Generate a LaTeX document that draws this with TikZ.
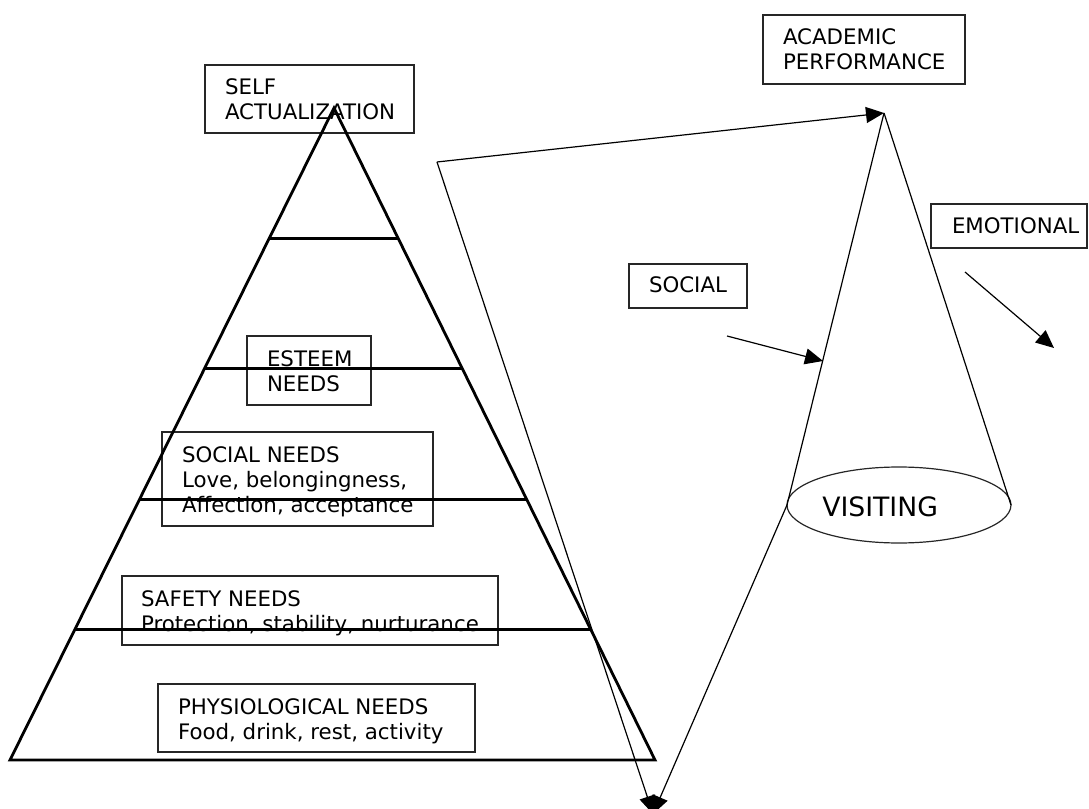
\documentclass[tikz,border=0pt]{standalone}
\usepackage{fontspec}
\setmainfont{DejaVu Sans}
\usetikzlibrary{arrows.meta,calc,shapes.geometric}
\newcommand{\twolines}[2]{\begin{tabular}[t]{@{}l@{}}#1\\#2\end{tabular}}
\begin{document}
\begin{tikzpicture}[x=0.75pt,y=-0.75pt,
  box/.style={draw=black!85,line width=0.8pt,rectangle,anchor=north west,inner sep=0pt,outer sep=0pt},
  txt/.style={anchor=base west,inner sep=0pt,outer sep=0pt,font=\fontsize{16pt}{18.75pt}\selectfont},
  pyr/.style={line width=2.1pt,line join=miter},
  thinline/.style={line width=0.9pt},
  arr/.style={thinline,-{Triangle[length=13.5pt,width=12pt]}}
]
\useasboundingbox (0,0) rectangle (1089,809);
\clip (0,0) rectangle (1089,809);

% ---- boxes (left pyramid) ----
\node[box,minimum width={209*0.75pt},minimum height={68*0.75pt}] (selfbox) at (205,65) {};
\node[txt] (selftxt) at (225,95) {\twolines{SELF}{ACTUALIZATION}};

\node[box,minimum width={124*0.75pt},minimum height={69*0.75pt}] (esteembox) at (247,336) {};
\node[txt] (esteemtxt) at (267,366) {\twolines{ESTEEM}{NEEDS}};

\node[box,minimum width={271*0.75pt},minimum height={94*0.75pt}] (socneedbox) at (162,432) {};
\node[txt] (socneedtxt) at (182,462) {\begin{tabular}[t]{@{}l@{}}SOCIAL NEEDS\\Love, belongingness,\\Affection, acceptance\end{tabular}};

\node[box,minimum width={376*0.75pt},minimum height={69*0.75pt}] (safetybox) at (122,576) {};
\node[txt] (safetytxt) at (141,606) {\twolines{SAFETY NEEDS}{Protection, stability, nurturance}};

\node[box,minimum width={317*0.75pt},minimum height={68*0.75pt}] (physbox) at (158,684) {};
\node[txt] (phystxt) at (178,714) {\twolines{PHYSIOLOGICAL NEEDS}{Food, drink, rest, activity}};

% ---- pyramid ----
\coordinate (apex) at (334,108);
\coordinate (bl) at (10,760);
\coordinate (br) at (655,760);
\draw[pyr] (apex) -- (bl) -- (br) -- cycle;
\foreach \t in {0.2,0.4,0.6,0.8}{
  \draw[pyr] ($(apex)!\t!(bl)$) -- ($(apex)!\t!(br)$);
}

% ---- right diagram ----
\node[box,minimum width={202*0.75pt},minimum height={69*0.75pt}] (acadbox) at (763,15) {};
\node[txt] (acadtxt) at (783,45) {\twolines{ACADEMIC}{PERFORMANCE}};

\node[box,minimum width={156*0.75pt},minimum height={44*0.75pt}] (emobox) at (931,204) {};
\node[txt] (emotxt) at (952,234) {EMOTIONAL};

\node[box,minimum width={118*0.75pt},minimum height={44*0.75pt}] (socbox) at (629,264) {};
\node[txt] (soctxt) at (649,293) {SOCIAL};

\node[draw=black!85,thinline,ellipse,minimum width={224*0.75pt},minimum height={76*0.75pt},inner sep=0pt,outer sep=0pt] (vis) at (899,505) {};
\node[anchor=base west,inner sep=0pt,font=\fontsize{20pt}{24pt}\selectfont] (vistxt) at (822,516) {VISITING};

\coordinate (capex) at (884,113);
\coordinate (corner) at (437,162);
\coordinate (bottom) at (653,814);
\coordinate (socstart) at (727,336);
\coordinate (socend) at (823,361);
\coordinate (emostart) at (965,272);
\coordinate (emoend) at (1054,348);

\draw[thinline] (capex) -- (vis.west);
\draw[thinline] (capex) -- (vis.east);
\draw[arr] (corner) -- (capex);
\draw[arr] (corner) -- (bottom);
\draw[arr] (vis.west) -- (bottom);
\draw[arr] (socstart) -- (socend);
\draw[arr] (emostart) -- (emoend);
\end{tikzpicture}
\end{document}
